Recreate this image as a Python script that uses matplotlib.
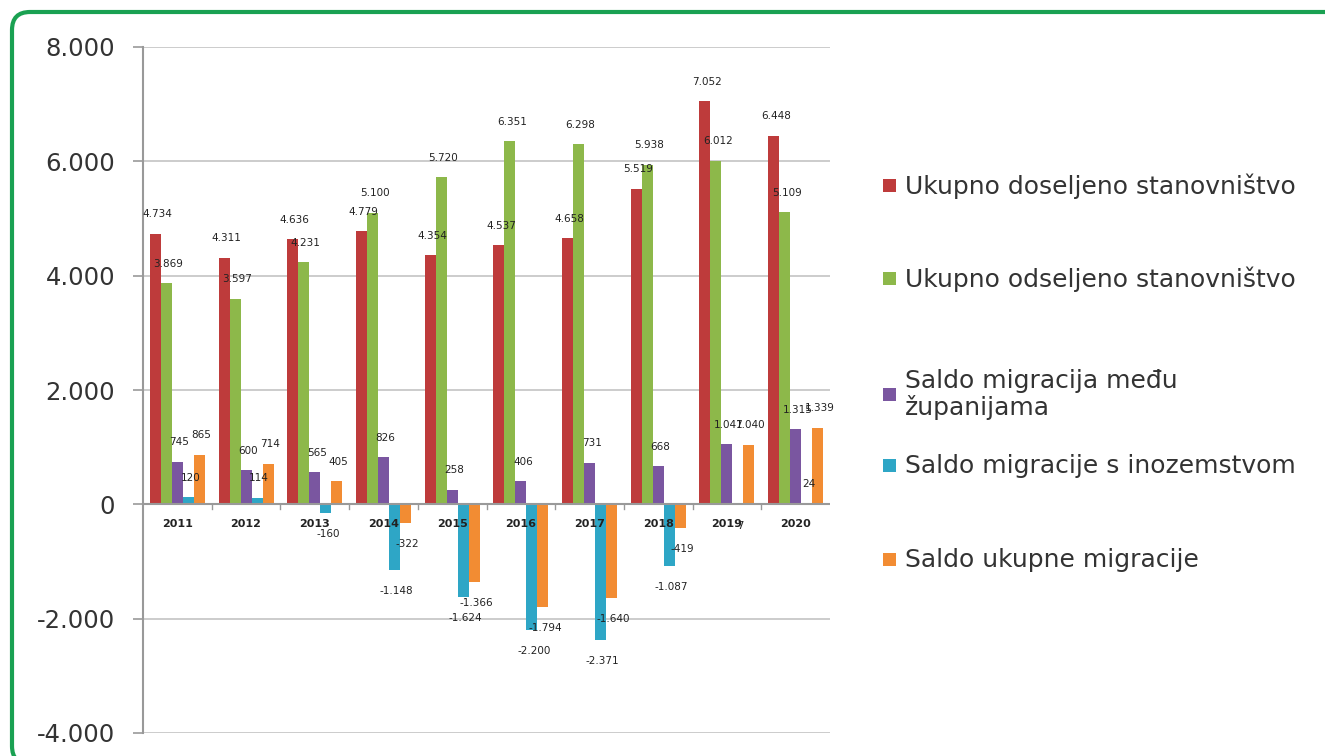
import matplotlib.pyplot as plt
import numpy as np
from matplotlib.patches import FancyBboxPatch, Rectangle
from matplotlib.ticker import FuncFormatter

years = ["2011", "2012", "2013", "2014", "2015", "2016", "2017", "2018", "2019", "2020"]
doseljeno = [4734, 4311, 4636, 4779, 4354, 4537, 4658, 5519, 7052, 6448]
odseljeno = [3869, 3597, 4231, 5100, 5720, 6351, 6298, 5938, 6012, 5109]
saldo_zupanije = [745, 600, 565, 826, 258, 406, 731, 668, 1047, 1315]
saldo_inozemstvo = [120, 114, -160, -1148, -1624, -2200, -2371, -1087, -7, 24]
saldo_ukupno = [865, 714, 405, -322, -1366, -1794, -1640, -419, 1040, 1339]

series_names = [
    "Ukupno doseljeno stanovništvo",
    "Ukupno odseljeno stanovništvo",
    "Saldo migracija među\nžupanijama",
    "Saldo migracije s inozemstvom",
    "Saldo ukupne migracije",
]
colors = ["#BE3B3B", "#8DB84A", "#7A56A0", "#2EA6C6", "#F28C33"]


def thousands(v, pos=None):
    return f"{v:,.0f}".replace(",", ".")


def main():
    W, H = 1325, 756
    fig = plt.figure(figsize=(W / 100, H / 100), dpi=100)

    # green rounded frame, right and bottom edges run off the canvas
    frame = FancyBboxPatch((12 / W, -8 / H), 1345 / W, 752 / H,
                           boxstyle=f"round,pad=0,rounding_size={18 / W}",
                           mutation_aspect=W / H,
                           transform=fig.transFigure, facecolor="none",
                           edgecolor="#1AA152", linewidth=3, zorder=10)
    fig.patches.append(frame)

    ax = fig.add_axes([143 / W, 1 - 733 / H, 687 / W, 686 / H])
    ax.set_facecolor("none")

    data = [doseljeno, odseljeno, saldo_zupanije, saldo_inozemstvo, saldo_ukupno]
    x = np.arange(len(years))
    bw = 0.16
    for i, (vals, col) in enumerate(zip(data, colors)):
        pos = x + (i - 2) * bw
        ax.bar(pos, vals, width=bw, color=col, zorder=3)
        for px, v in zip(pos, vals):
            off = 14 if v >= 0 else -15
            ax.annotate(thousands(v), (px + 0.03, v), xytext=(0, off),
                        textcoords="offset points", ha="center", va="center",
                        fontsize=7.5, color="#222222", zorder=5)

    ax.set_xlim(-0.5, len(years) - 0.5)
    ax.set_ylim(-4000, 8000)
    ax.set_yticks(range(-4000, 8001, 2000))
    ax.yaxis.set_major_formatter(FuncFormatter(thousands))
    ax.grid(axis="y", color="#C4C4C4", linewidth=1.2, zorder=0)
    for s in ["top", "right", "bottom"]:
        ax.spines[s].set_visible(False)
    ax.spines["left"].set_color("#999999")
    ax.spines["left"].set_linewidth(1.5)
    ax.tick_params(axis="y", length=7, color="#999999", width=1.2, pad=13,
                   labelsize=17.5, labelcolor="#333333")

    # zero axis with category tick marks
    ax.axhline(0, color="#999999", linewidth=1.5, zorder=4)
    ax.set_xticks([])
    for b in np.arange(0.5, len(years) - 0.5, 1):
        ax.plot([b, b], [0, -90], color="#999999", linewidth=1, zorder=4)
    for xi, yr in zip(x, years):
        ax.annotate(yr, (xi, 0), xytext=(0, -14), textcoords="offset points",
                    ha="center", va="center", fontsize=8, fontweight="bold",
                    color="#222222", zorder=5)

    # legend drawn by hand
    legend_y = [186, 279, 395, 466, 560]
    for name, col, ly in zip(series_names, colors, legend_y):
        fig.patches.append(Rectangle((883 / W, 1 - (ly + 6) / H), 13 / W, 13 / H,
                                     transform=fig.transFigure, facecolor=col,
                                     edgecolor="none"))
        fig.text(905 / W, 1 - ly / H, name, ha="left", va="center",
                 fontsize=18, color="#333333", linespacing=1.1)

    fig.savefig("out.png", dpi=100)


if __name__ == "__main__":
    main()
